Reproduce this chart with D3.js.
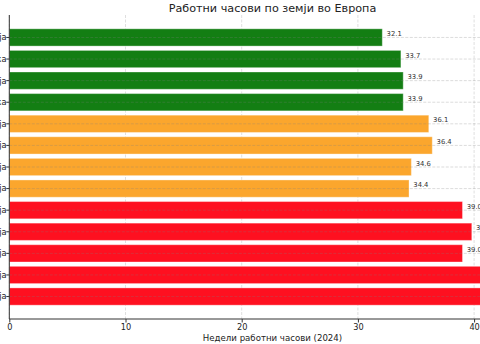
<!DOCTYPE html>
<html>
<head>
<meta charset="utf-8">
<script src="https://cdn.jsdelivr.net/npm/d3@7/dist/d3.min.js"></script>
<style>
  html, body { margin: 0; padding: 0; background: #fff; overflow: hidden; }
  svg { display: block; font-family: "DejaVu Sans", sans-serif; }
</style>
</head>
<body>
<svg id="chart" width="480" height="344"></svg>
<script>
// Weekly working hours by country, grouped into three bands
const countries = ["Холандија", "Норвешка", "Германија", "Данска",
                   "Франција", "Италија", "Белгија", "Швајцарија",
                   "Србија", "Грција", "Бугарија", "Турција", "Македонија"];
const hours = [32.1, 33.7, 33.9, 33.9,
               36.1, 36.4, 34.6, 34.4,
               39.0, 39.8, 39.0, 43.1, 41.6];
const groups = ["low", "low", "low", "low",
                "mid", "mid", "mid", "mid",
                "high", "high", "high", "high", "high"];
const xTicks = [0, 10, 20, 30, 40];

const title = "Работни часови по земји во Европа";
const xLabel = "Недели работни часови (2024)";

const colors = { low: "#137e13", mid: "#fba62d", high: "#fe1020" };

const svg = d3.select("#chart");
const plotLeft = 9.3, plotTop = 15, plotH = 304;
const xMax = 45.3;

const x = d3.scaleLinear().domain([0, xMax]).range([plotLeft, plotLeft + 11.62 * xMax]);

// category positions: bar height 0.8 of a step, 5% margins on the span
const n = countries.length;
const span = (n - 0.2) * 1.1;
const y = d3.scaleLinear()
  .domain([-0.4 - 0.05 * (n - 0.2), n - 0.6 + 0.05 * (n - 0.2)])
  .range([plotTop, plotTop + plotH]);
const step = plotH / span;
const barH = 0.8 * step;
const yc = i => y(i);

// vertical grid (beneath bars)
svg.append("g").selectAll("line").data(xTicks).join("line")
  .attr("x1", d => x(d)).attr("x2", d => x(d))
  .attr("y1", plotTop).attr("y2", plotTop + plotH)
  .attr("stroke", "#b0b0b0").attr("stroke-opacity", 0.5)
  .attr("stroke-width", 0.8).attr("stroke-dasharray", "3,1.5");

// bars
svg.append("g").selectAll("rect").data(hours).join("rect")
  .attr("x", x(0))
  .attr("y", (d, i) => yc(i) - barH / 2)
  .attr("width", d => x(d) - x(0))
  .attr("height", barH)
  .attr("fill", (d, i) => colors[groups[i]])
  .attr("stroke", "rgba(255,255,255,0.35)")
  .attr("stroke-width", 1);

// horizontal grid at each category
svg.append("g").selectAll("line").data(countries).join("line")
  .attr("x1", plotLeft).attr("x2", 480)
  .attr("y1", (d, i) => yc(i)).attr("y2", (d, i) => yc(i))
  .attr("stroke", "#808080").attr("stroke-opacity", 0.35)
  .attr("stroke-width", 0.8).attr("stroke-dasharray", "3,1.5");

// value labels
svg.append("g").selectAll("text").data(hours).join("text")
  .attr("x", d => x(d) + 4.3)
  .attr("y", (d, i) => yc(i) - 1.5)
  .attr("font-size", 6.8).attr("fill", "#333")
  .text(d => d.toFixed(1));

// axes
const xAxis = d3.axisBottom(x).tickValues(xTicks).tickSize(3.5).tickPadding(1.5);
const gx = svg.append("g").attr("transform", `translate(0,${plotTop + plotH})`).call(xAxis);
gx.select(".domain").attr("stroke", "#333").attr("d", `M${plotLeft},0H480`);
gx.selectAll(".tick line").attr("stroke", "#333");
gx.selectAll("text").attr("font-size", 8.2).attr("fill", "#222")
  .attr("font-family", "DejaVu Sans");

const yAxis = svg.append("g");
yAxis.append("line").attr("x1", plotLeft).attr("x2", plotLeft)
  .attr("y1", plotTop).attr("y2", plotTop + plotH).attr("stroke", "#333");
yAxis.selectAll("line.t").data(countries).join("line").attr("class", "t")
  .attr("x1", plotLeft - 3).attr("x2", plotLeft)
  .attr("y1", (d, i) => yc(i)).attr("y2", (d, i) => yc(i))
  .attr("stroke", "#333");
yAxis.selectAll("text").data(countries).join("text")
  .attr("x", plotLeft - 2.8)
  .attr("y", (d, i) => yc(i))
  .attr("dy", "0.35em")
  .attr("text-anchor", "end")
  .attr("font-size", 8.2).attr("fill", "#222")
  .text(d => d);

// title and axis label, centred on the plot area
const cx = (x(0) + x(xMax)) / 2;
svg.append("text").attr("x", cx).attr("y", 11.5)
  .attr("text-anchor", "middle").attr("font-size", 11.2).attr("fill", "#222")
  .text(title);
svg.append("text").attr("x", cx).attr("y", 340.5)
  .attr("text-anchor", "middle").attr("font-size", 8.6).attr("fill", "#222")
  .text(xLabel);
</script>
</body>
</html>
